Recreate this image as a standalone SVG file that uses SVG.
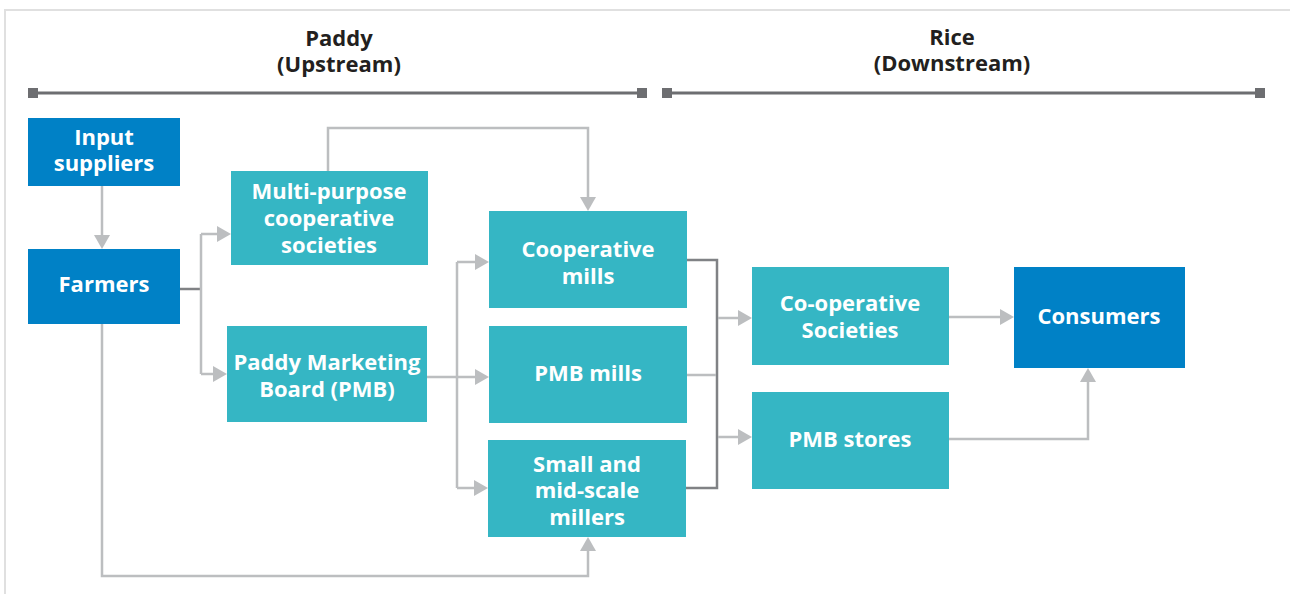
<svg xmlns="http://www.w3.org/2000/svg" width="1290" height="594" viewBox="0 0 1290 594">
<style>
.bg{fill:#ffffff}
.frame{fill:none;stroke:#e0e0e0;stroke-width:2}
.hdr{font-family:"Open Sans","Liberation Sans",sans-serif;font-weight:700;font-size:22px;fill:#231f20;text-anchor:middle}
.bar{stroke:#6d6e71;stroke-width:3}
.sq{fill:#6d6e71}
.dark{fill:#0081c6}
.teal{fill:#35b6c4}
.lbl{font-family:"Open Sans","Liberation Sans",sans-serif;font-weight:700;font-size:22px;fill:#ffffff;text-anchor:middle}
.c{fill:none;stroke:#bcbec0;stroke-width:2.5}
.cd{fill:none;stroke:#808285;stroke-width:2.5}
.ah{fill:#bcbec0}
</style>
<rect class="bg" x="0" y="0" width="1290" height="594"/>
<path class="frame" d="M5,594 V10 H1290"/>
<g id="header-upstream">
<text class="hdr" x="339" y="46">Paddy</text>
<text class="hdr" x="339" y="72">(Upstream)</text>
<line class="bar" x1="33" y1="93" x2="642" y2="93"/>
<rect class="sq" x="28" y="88" width="10" height="10"/>
<rect class="sq" x="637" y="88" width="10" height="10"/>
</g>
<g id="header-downstream">
<text class="hdr" x="952" y="45">Rice</text>
<text class="hdr" x="952" y="71">(Downstream)</text>
<line class="bar" x1="667" y1="93" x2="1260" y2="93"/>
<rect class="sq" x="662" y="88" width="10" height="10"/>
<rect class="sq" x="1255" y="88" width="10" height="10"/>
</g>
<g id="connectors">
<path class="c" d="M102,186 V236"/>
<polygon class="ah" points="94,235 110,235 102,249"/>
<path class="cd" d="M180,289 H201"/>
<path class="c" d="M201,234 V374 M201,234 H218 M201,374 H214"/>
<polygon class="ah" points="217,226 217,242 231,234"/>
<polygon class="ah" points="213,366 213,382 227,374"/>
<path class="c" d="M328,171 V128 H588 V198"/>
<polygon class="ah" points="580,197 596,197 588,211"/>
<path class="c" d="M427,377 H476 M457,262 V488 M457,262 H476 M457,488 H475"/>
<polygon class="ah" points="475,254 475,270 489,262"/>
<polygon class="ah" points="475,369 475,385 489,377"/>
<polygon class="ah" points="474,480 474,496 488,488"/>
<path class="c" d="M102,324 V576 H588 V550"/>
<polygon class="ah" points="580,551 596,551 588,537"/>
<path class="cd" d="M687,260 H717 V488 H686"/>
<path class="c" d="M687,375 H716 M718,318 H739 M718,437 H739"/>
<polygon class="ah" points="738,310 738,326 752,318"/>
<polygon class="ah" points="738,429 738,445 752,437"/>
<path class="c" d="M949,317 H1001"/>
<polygon class="ah" points="1000,309 1000,325 1014,317"/>
<path class="c" d="M949,439 H1088 V381"/>
<polygon class="ah" points="1080,382 1096,382 1088,368"/>
</g>
<g id="node-input-suppliers">
<rect class="dark" x="28" y="118" width="152" height="68"/>
<text class="lbl" x="104" y="145">Input</text>
<text class="lbl" x="104" y="171">suppliers</text>
</g>
<g id="node-farmers">
<rect class="dark" x="28" y="249" width="152" height="75"/>
<text class="lbl" x="104" y="292">Farmers</text>
</g>
<g id="node-mpcs">
<rect class="teal" x="231" y="171" width="197" height="94"/>
<text class="lbl" x="329" y="199">Multi-purpose</text>
<text class="lbl" x="329" y="226">cooperative</text>
<text class="lbl" x="329" y="253">societies</text>
</g>
<g id="node-pmb">
<rect class="teal" x="227" y="326" width="200" height="96"/>
<text class="lbl" x="327" y="370">Paddy Marketing</text>
<text class="lbl" x="327" y="397">Board (PMB)</text>
</g>
<g id="node-coop-mills">
<rect class="teal" x="489" y="211" width="198" height="97"/>
<text class="lbl" x="588" y="257">Cooperative</text>
<text class="lbl" x="588" y="284">mills</text>
</g>
<g id="node-pmb-mills">
<rect class="teal" x="489" y="326" width="198" height="97"/>
<text class="lbl" x="588" y="381">PMB mills</text>
</g>
<g id="node-small-millers">
<rect class="teal" x="488" y="440" width="198" height="97"/>
<text class="lbl" x="587" y="472">Small and</text>
<text class="lbl" x="587" y="498">mid-scale</text>
<text class="lbl" x="587" y="525">millers</text>
</g>
<g id="node-coop-societies">
<rect class="teal" x="752" y="267" width="197" height="98"/>
<text class="lbl" x="850" y="311">Co-operative</text>
<text class="lbl" x="850" y="338">Societies</text>
</g>
<g id="node-pmb-stores">
<rect class="teal" x="752" y="392" width="197" height="97"/>
<text class="lbl" x="850" y="447">PMB stores</text>
</g>
<g id="node-consumers">
<rect class="dark" x="1014" y="267" width="171" height="101"/>
<text class="lbl" x="1099" y="324">Consumers</text>
</g>
</svg>
